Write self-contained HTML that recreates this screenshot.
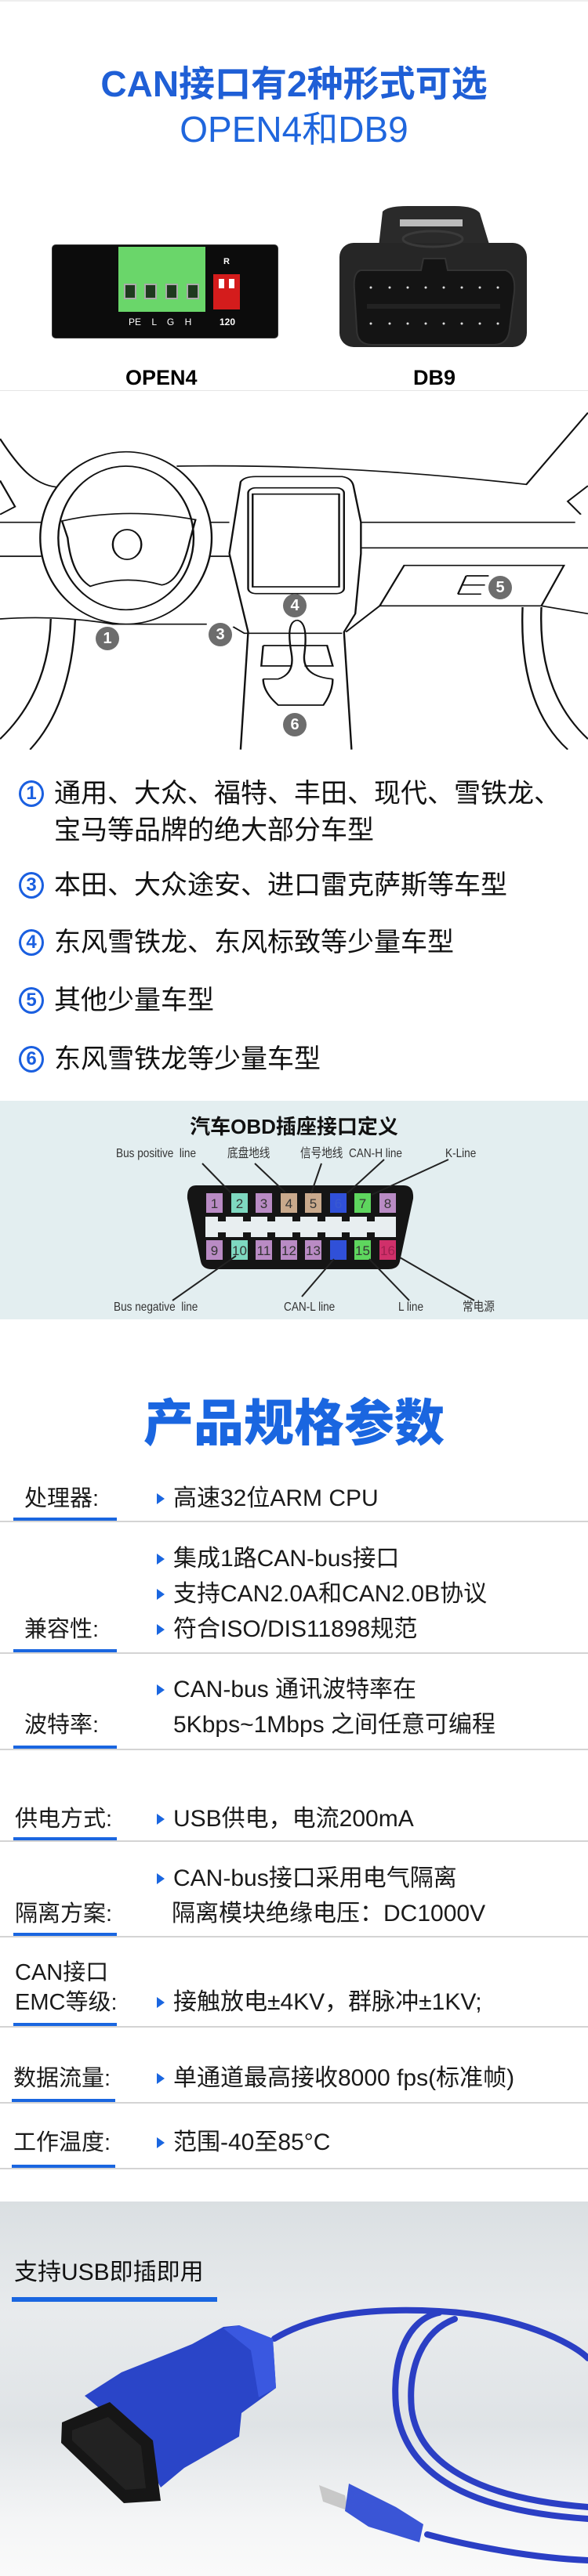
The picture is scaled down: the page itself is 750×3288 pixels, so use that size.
<!DOCTYPE html>
<html><head><meta charset="utf-8">
<style>
*{margin:0;padding:0;box-sizing:border-box}
body{width:750px;height:3288px;position:relative;background:#fff;font-family:"Liberation Sans","Noto Sans CJK SC",sans-serif;overflow:hidden;color:#111}
.a{position:absolute;white-space:nowrap}
.lbl{position:absolute;left:31px;font-size:29px;color:#1a1a1a;line-height:1}
.val{position:absolute;left:221px;font-size:30px;color:#1a1a1a;line-height:1}
.tri{position:absolute;left:200px;width:0;height:0;border-top:7px solid transparent;border-bottom:7px solid transparent;border-left:10px solid #1a66e0}
.ul{position:absolute;left:17px;width:132px;height:5px;background:#1a66e0}
.gl{position:absolute;left:0;width:750px;height:2px;background:#d4d4d4}
.li{position:absolute;left:69px;font-size:34px;color:#111;line-height:1}
.cn{position:absolute;left:24px;width:32px;height:34px;border:3px solid #1a5fe0;border-radius:50%;color:#1a5fe0;font-size:24px;font-weight:bold;text-align:center;line-height:28px}
.nc{position:absolute;width:30px;height:30px;border-radius:50%;background:#6d6d6d;color:#fff;font-size:20px;font-weight:bold;text-align:center;line-height:30px}
.ol{position:absolute;font-size:16px;color:#333;line-height:1;transform:scaleX(.85);transform-origin:left}
</style></head><body>

<div class="a" style="left:0;top:0;width:750px;height:2px;background:#eee"></div>
<div class="a" style="left:0;width:750px;top:82px;text-align:center;font-size:46px;font-weight:bold;color:#1f5fd6;line-height:50px">CAN接口有2种形式可选</div>
<div class="a" style="left:0;width:750px;top:140px;text-align:center;font-size:46px;color:#1f66dd;line-height:50px">OPEN4和DB9</div>

<!-- OPEN4 device -->
<div class="a" style="left:66px;top:312px;width:289px;height:120px;background:#0c0c0c;border-radius:5px;border:1px solid #333"></div>
<div class="a" style="left:151px;top:315px;width:111px;height:83px;background:#6ad66a"></div>
<div class="a" style="left:158px;top:362px;width:16px;height:20px;background:#1e3a1e;border:2px solid #aaa"></div>
<div class="a" style="left:184px;top:362px;width:16px;height:20px;background:#1e3a1e;border:2px solid #aaa"></div>
<div class="a" style="left:211px;top:362px;width:16px;height:20px;background:#1e3a1e;border:2px solid #aaa"></div>
<div class="a" style="left:238px;top:362px;width:16px;height:20px;background:#1e3a1e;border:2px solid #aaa"></div>
<div class="a" style="left:272px;top:350px;width:34px;height:45px;background:#d41c1c"></div>
<div class="a" style="left:279px;top:356px;width:7px;height:12px;background:#fff"></div>
<div class="a" style="left:292px;top:356px;width:7px;height:12px;background:#fff"></div>
<div class="a" style="left:285px;top:328px;color:#fff;font-size:11px;font-weight:bold">R</div>
<div class="a" style="left:164px;top:404px;color:#fff;font-size:12px;word-spacing:10px">PE L G H</div>
<div class="a" style="left:280px;top:404px;color:#fff;font-size:12px;font-weight:bold">120</div>

<!-- DB9 -->
<svg class="a" style="left:420px;top:255px" width="270" height="210" viewBox="420 255 270 210">
<path d="M488,270 Q495,263 520,263 L580,263 Q605,263 612,272 L625,315 L483,315 Z" fill="#2a2a2a"/>
<rect x="433" y="310" width="239" height="133" rx="18" fill="#262626"/>
<path d="M460,345 L537,345 L540,330 L568,330 L571,345 L645,345 Q660,350 655,380 L650,420 Q648,440 630,440 L475,440 Q455,440 455,420 L452,370 Q450,348 460,345 Z" fill="#141414" stroke="#333" stroke-width="2"/>
<rect x="468" y="388" width="170" height="6" fill="#222"/>
<g fill="#ddd"><circle cx="473" cy="367" r="1.5"/><circle cx="497" cy="367" r="1.5"/><circle cx="520" cy="367" r="1.5"/><circle cx="543" cy="367" r="1.5"/><circle cx="566" cy="367" r="1.5"/><circle cx="589" cy="367" r="1.5"/><circle cx="612" cy="367" r="1.5"/><circle cx="635" cy="367" r="1.5"/>
<circle cx="473" cy="413" r="1.5"/><circle cx="497" cy="413" r="1.5"/><circle cx="520" cy="413" r="1.5"/><circle cx="543" cy="413" r="1.5"/><circle cx="566" cy="413" r="1.5"/><circle cx="589" cy="413" r="1.5"/><circle cx="612" cy="413" r="1.5"/><circle cx="635" cy="413" r="1.5"/></g>
<ellipse cx="552" cy="305" rx="38" ry="10" fill="none" stroke="#3a3a3a" stroke-width="3"/>
<rect x="510" y="280" width="80" height="9" fill="#bbb"/>
</svg>
<div class="a" style="left:160px;top:467px;font-size:27px;font-weight:bold;color:#000">OPEN4</div>
<div class="a" style="left:527px;top:467px;font-size:27px;font-weight:bold;color:#000">DB9</div>
<div class="a" style="left:0;top:498px;width:750px;height:1px;background:#e6e6e6"></div>

<!-- car dashboard -->
<svg class="a" style="left:0;top:500px" width="750" height="480" viewBox="0 0 1564 1440" preserveAspectRatio="none">
<g fill="none" stroke="#111" stroke-width="5">
<path d="M0,180 C50,290 90,355 150,365"/>
<path d="M0,340 L40,440 L0,470"/>
<path d="M470,285 C700,280 1000,290 1400,355 L1564,80"/>
<path d="M1564,360 L1510,420 L1545,470"/>
<ellipse cx="335" cy="560" rx="228" ry="330"/>
<ellipse cx="335" cy="560" rx="180" ry="275"/>
<path d="M165,495 Q335,440 520,490 L505,570 Q480,730 430,740 Q335,700 240,745 Q190,700 180,560 Z"/>
<ellipse cx="338" cy="585" rx="38" ry="57"/>
<path d="M0,500 L110,500 M0,630 L110,630 M560,500 L610,500 M560,630 L610,630"/>
<path d="M960,500 L1530,500 M960,598 L1564,598"/>
<path d="M0,870 C100,860 200,865 300,890 L550,890 M620,900 L650,925 L910,925"/>
<path d="M610,620 L640,345 Q650,325 680,325 L910,325 Q935,330 940,360 L960,500 L960,620 L945,850 L915,920 L935,1370"/>
<path d="M610,620 L660,920 L640,1370"/>
<rect x="660" y="368" width="255" height="405" rx="20"/>
<rect x="672" y="392" width="230" height="355"/>
<path d="M1075,665 L1500,665 L1440,820 L1010,820 Z"/>
<path d="M1010,820 L920,920 M1440,820 L1564,850"/>
<path d="M1390,825 Q1380,1200 1510,1370 M1440,825 Q1430,1150 1564,1330"/>
<path d="M135,870 Q130,1150 0,1330 M200,870 Q190,1200 80,1370"/>
<path d="M790,875 Q760,880 775,1000 Q785,1080 740,1100 L700,1100 M790,875 Q820,880 810,1000 Q800,1090 885,1100"/>
<path d="M700,972 L870,972 L885,1050 L810,1050 M700,972 L695,1050 L775,1050 M700,1100 Q700,1150 740,1200 L860,1200 Q885,1150 885,1100"/>
<path d="M1240,705 L1300,705 M1230,740 L1290,740 M1218,775 L1280,775 M1240,705 L1218,775"/>
</g></svg>
<div class="nc" style="left:122px;top:800px">1</div>
<div class="nc" style="left:266px;top:795px">3</div>
<div class="nc" style="left:361px;top:758px">4</div>
<div class="nc" style="left:623px;top:735px">5</div>
<div class="nc" style="left:361px;top:910px">6</div>

<!-- list -->
<div class="cn" style="top:996px">1</div><div class="li" style="top:996px">通用、大众、福特、丰田、现代、雪铁龙、</div>
<div class="li" style="top:1043px">宝马等品牌的绝大部分车型</div>
<div class="cn" style="top:1113px">3</div><div class="li" style="top:1113px">本田、大众途安、进口雷克萨斯等车型</div>
<div class="cn" style="top:1186px">4</div><div class="li" style="top:1186px">东风雪铁龙、东风标致等少量车型</div>
<div class="cn" style="top:1260px">5</div><div class="li" style="top:1260px">其他少量车型</div>
<div class="cn" style="top:1335px">6</div><div class="li" style="top:1335px">东风雪铁龙等少量车型</div>

<!-- OBD -->
<div class="a" style="left:0;top:1405px;width:750px;height:279px;background:#e3eef0"></div>
<div class="a" style="left:0;width:750px;top:1418px;text-align:center;font-size:26px;font-weight:bold;color:#111">汽车OBD插座接口定义</div>
<svg class="a" style="left:0;top:1380px" width="750" height="310" viewBox="0 1380 750 310">
<path d="M250,1513 L515,1513 Q528,1513 527,1530 L510,1610 Q508,1620 495,1620 L270,1620 Q258,1620 256,1610 L239,1530 Q238,1513 250,1513 Z" fill="#151515"/>
<rect x="262" y="1553" width="243" height="26" fill="#e8eef0"/>
<g fill="#151515"><rect x="278" y="1553" width="10" height="6"/><rect x="310" y="1553" width="10" height="6"/><rect x="341" y="1553" width="10" height="6"/><rect x="373" y="1553" width="10" height="6"/><rect x="405" y="1553" width="10" height="6"/><rect x="436" y="1553" width="10" height="6"/><rect x="468" y="1553" width="10" height="6"/>
<rect x="278" y="1573" width="10" height="6"/><rect x="310" y="1573" width="10" height="6"/><rect x="341" y="1573" width="10" height="6"/><rect x="373" y="1573" width="10" height="6"/><rect x="405" y="1573" width="10" height="6"/><rect x="436" y="1573" width="10" height="6"/><rect x="468" y="1573" width="10" height="6"/></g>
<g font-family="Liberation Sans" font-size="17" fill="#333" text-anchor="middle">
<rect x="263" y="1523" width="21" height="25" fill="#b98bc4"/><text x="273.5" y="1542">1</text>
<rect x="295" y="1523" width="21" height="25" fill="#7ed8c0"/><text x="305.5" y="1542">2</text>
<rect x="326" y="1523" width="21" height="25" fill="#b98bc4"/><text x="336.5" y="1542">3</text>
<rect x="358" y="1523" width="21" height="25" fill="#c9a98c"/><text x="368.5" y="1542">4</text>
<rect x="389" y="1523" width="21" height="25" fill="#c9a98c"/><text x="399.5" y="1542">5</text>
<rect x="421" y="1523" width="21" height="25" fill="#3050d8"/><text x="431.5" y="1542" fill="#3a5ad0">6</text>
<rect x="452" y="1523" width="21" height="25" fill="#5ed65e"/><text x="462.5" y="1542">7</text>
<rect x="484" y="1523" width="21" height="25" fill="#b98bc4"/><text x="494.5" y="1542">8</text>
<rect x="263" y="1583" width="21" height="25" fill="#b98bc4"/><text x="273.5" y="1602">9</text>
<rect x="295" y="1583" width="21" height="25" fill="#7ed8c0"/><text x="305.5" y="1602">10</text>
<rect x="326" y="1583" width="21" height="25" fill="#b98bc4"/><text x="336.5" y="1602">11</text>
<rect x="358" y="1583" width="21" height="25" fill="#b98bc4"/><text x="368.5" y="1602">12</text>
<rect x="389" y="1583" width="21" height="25" fill="#b98bc4"/><text x="399.5" y="1602">13</text>
<rect x="421" y="1583" width="21" height="25" fill="#3050d8"/>
<rect x="452" y="1583" width="21" height="25" fill="#5ed65e"/><text x="462.5" y="1602">15</text>
<rect x="484" y="1583" width="21" height="25" fill="#d0306a"/><text x="494.5" y="1602" fill="#a02050">16</text>
</g>
<g stroke="#222" stroke-width="2">
<line x1="258" y1="1485" x2="294" y2="1522"/><line x1="325" y1="1485" x2="364" y2="1522"/><line x1="410" y1="1485" x2="397" y2="1523"/><line x1="490" y1="1480" x2="443" y2="1523"/><line x1="572" y1="1480" x2="474" y2="1525"/>
<line x1="220" y1="1660" x2="301" y2="1603"/><line x1="385" y1="1655" x2="426" y2="1607"/><line x1="522" y1="1660" x2="471" y2="1607"/><line x1="605" y1="1660" x2="510" y2="1605"/>
</g></svg>
<div class="ol" style="left:148px;top:1465px">Bus positive&nbsp; line</div>
<div class="ol" style="left:290px;top:1465px">底盘地线</div>
<div class="ol" style="left:383px;top:1465px">信号地线&nbsp; CAN-H line</div>
<div class="ol" style="left:568px;top:1465px">K-Line</div>
<div class="ol" style="left:145px;top:1661px">Bus negative&nbsp; line</div>
<div class="ol" style="left:362px;top:1661px">CAN-L line</div>
<div class="ol" style="left:508px;top:1661px">L line</div>
<div class="ol" style="left:590px;top:1661px">常电源</div>

<!-- specs -->
<div class="a" style="left:0;width:750px;top:1782px;text-align:center;font-size:64px;font-weight:900;color:#1a66e0;line-height:70px">产品规格参数</div>

<div class="lbl" style="top:1899px">处理器:</div>
<div class="tri" style="top:1906px"></div><div class="val" style="top:1898px">高速32位ARM CPU</div>
<div class="ul" style="top:1937px"></div><div class="gl" style="top:1941px"></div>

<div class="tri" style="top:1983px"></div><div class="val" style="top:1975px">集成1路CAN-bus接口</div>
<div class="tri" style="top:2028px"></div><div class="val" style="top:2020px">支持CAN2.0A和CAN2.0B协议</div>
<div class="lbl" style="top:2066px">兼容性:</div>
<div class="tri" style="top:2073px"></div><div class="val" style="top:2065px">符合ISO/DIS11898规范</div>
<div class="ul" style="top:2105px"></div><div class="gl" style="top:2109px"></div>

<div class="tri" style="top:2150px"></div><div class="val" style="top:2142px">CAN-bus 通讯波特率在</div>
<div class="lbl" style="top:2188px">波特率:</div>
<div class="val" style="top:2187px">5Kbps~1Mbps 之间任意可编程</div>
<div class="ul" style="top:2228px"></div><div class="gl" style="top:2232px"></div>

<div class="lbl" style="top:2308px;left:19px">供电方式:</div>
<div class="tri" style="top:2315px"></div><div class="val" style="top:2307px">USB供电，电流200mA</div>
<div class="ul" style="top:2345px"></div><div class="gl" style="top:2349px"></div>

<div class="tri" style="top:2391px"></div><div class="val" style="top:2383px">CAN-bus接口采用电气隔离</div>
<div class="lbl" style="top:2429px;left:19px">隔离方案:</div>
<div class="val" style="top:2428px;left:219px">隔离模块绝缘电压：DC1000V</div>
<div class="ul" style="top:2467px"></div><div class="gl" style="top:2471px"></div>

<div class="lbl" style="top:2504px;left:19px">CAN接口</div>
<div class="lbl" style="top:2542px;left:19px">EMC等级:</div>
<div class="tri" style="top:2549px"></div><div class="val" style="top:2541px">接触放电±4KV，群脉冲±1KV;</div>
<div class="ul" style="top:2582px"></div><div class="gl" style="top:2586px"></div>

<div class="lbl" style="top:2639px;left:17px">数据流量:</div>
<div class="tri" style="top:2646px"></div><div class="val" style="top:2638px">单通道最高接收8000 fps(标准帧)</div>
<div class="ul" style="top:2679px;left:15px"></div><div class="gl" style="top:2683px"></div>

<div class="lbl" style="top:2721px;left:17px">工作温度:</div>
<div class="tri" style="top:2728px"></div><div class="val" style="top:2720px">范围-40至85°C</div>
<div class="ul" style="top:2763px;left:15px"></div><div class="gl" style="top:2767px"></div>

<!-- USB section -->
<div class="a" style="left:0;top:2810px;width:750px;height:478px;background:linear-gradient(180deg,#dadfe2 0%,#e8ebed 30%,#dfe3e6 60%,#f4f5f6 85%,#fafafa 100%)"></div>
<div class="a" style="left:18px;top:2886px;font-size:30px;color:#111;line-height:1">支持USB即插即用</div>
<div class="a" style="left:15px;top:2932px;width:262px;height:6px;background:#1a66e0"></div>
<svg class="a" style="left:0;top:2840px" width="750" height="448" viewBox="0 2840 750 448">
<g fill="none" stroke="#2b3fc4" stroke-width="8" stroke-linecap="round">
<path d="M350,2985 C400,2955 470,2945 560,2950 C660,2955 730,2990 750,3010"/>
<path d="M560,2952 C520,2960 500,3010 505,3070 C515,3160 600,3205 750,3215"/>
<path d="M580,2960 C540,2975 520,3020 525,3075 C535,3150 620,3190 750,3200"/>
<path d="M545,3235 C600,3250 680,3265 750,3268"/>
</g>
<path d="M108,3058 L155,3028 L218,3003 L245,2992 L285,2970 L305,2968 L348,2985 L352,3048 L308,3080 L305,3110 L235,3150 L205,3175 L170,3110 Z" fill="#2a45c8"/>
<path d="M285,2972 L305,2968 L348,2985 L352,3048 L330,3060 L320,3000 Z" fill="#3a58e0"/>
<path d="M79,3092 L140,3066 L195,3115 L205,3192 L158,3195 L78,3118 Z" fill="#161616"/>
<path d="M92,3102 L138,3085 L180,3122 L186,3176 L160,3178 L92,3115 Z" fill="#222"/>
<path d="M407,3172 L440,3185 L445,3205 L412,3193 Z" fill="#c8c8c8"/>
<path d="M445,3170 L505,3200 L540,3222 L535,3245 L470,3225 L440,3205 Z" fill="#3a55d6"/>
</svg>
</body></html>
